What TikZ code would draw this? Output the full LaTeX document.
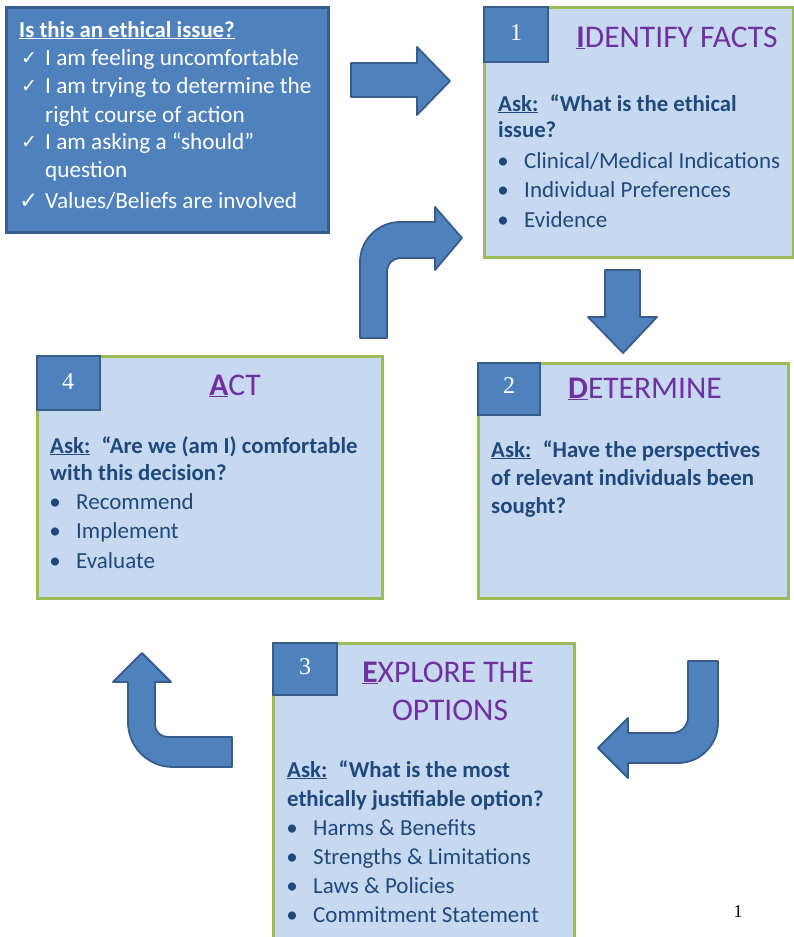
\documentclass[tikz,border=0pt]{standalone}
\usepackage{fontspec}
\setmainfont{Carlito}
\newfontfamily\numfont{Liberation Serif}
\newfontfamily\symfont{DejaVu Sans}
\definecolor{midblue}{HTML}{4F81BD}
\definecolor{edgeblue}{HTML}{385D8A}
\definecolor{lightfill}{HTML}{C6D9F1}
\definecolor{greenedge}{HTML}{9BBB59}
\definecolor{darktext}{HTML}{1F497D}
\definecolor{purpletitle}{HTML}{7030A0}
\begin{document}
\begin{tikzpicture}[x=1pt,y=-1pt,
  stepcard/.style={fill=lightfill,draw=greenedge,line width=3pt},
  qbox/.style={fill=midblue,draw=edgeblue,line width=3pt},
  numbox/.style={fill=midblue,draw=edgeblue,line width=1.2pt},
  bigarrow/.style={fill=midblue,draw=edgeblue,line width=1.8pt,line join=round},
  txt/.style={anchor=base west,inner sep=0pt,text=darktext,font=\fontsize{23}{26}\selectfont},
  btxt/.style={txt,font=\fontsize{22.8}{26}\selectfont\bfseries},
  wtxt/.style={anchor=base west,inner sep=0pt,text=white,font=\fontsize{23.2}{26}\selectfont},
  chk/.style={anchor=base west,inner sep=0pt,text=white,font=\symfont\fontsize{19}{22}\selectfont},
  bul/.style={anchor=base,inner sep=0pt,text=darktext,font=\fontsize{23}{26}\selectfont},
  ttl/.style={anchor=base,inner sep=0pt,text=purpletitle,font=\fontsize{31.5}{36}\selectfont},
  numtxt/.style={anchor=center,inner sep=0pt,text=white,font=\numfont\fontsize{24}{27}\selectfont}
]
\useasboundingbox (0,0) rectangle (794,937);

% ---- question box ----
\draw[qbox] (6,7) rectangle (328,232);
\node[wtxt,font=\fontsize{22.8}{26}\selectfont\bfseries] (q0) at (19,37) {\underline{Is this an ethical issue?}};
\node[chk] (c1) at (21,64) {✓};
\node[wtxt] (q1) at (45,65) {I am feeling uncomfortable};
\node[chk] (c2) at (21,92) {✓};
\node[wtxt] (q2) at (45,93) {I am trying to determine the};
\node[wtxt] (q3) at (45,122) {right course of action};
\node[chk] (c3) at (21,148) {✓};
\node[wtxt] (q4) at (45,149) {I am asking a “should”};
\node[wtxt] (q5) at (45,177) {question};
\node[chk,font=\symfont\fontsize{23}{26}\selectfont] (c4) at (19,208) {✓};
\node[wtxt] (q6) at (45,208) {Values/Beliefs are involved};

% ---- arrows ----
\draw[bigarrow] (351,63) -- (417,63) -- (417,47) -- (450,81) -- (417,115) -- (417,97) -- (351,97) -- cycle;
\draw[bigarrow] (360,338) -- (360,262) .. controls (360,240) and (378,222) .. (400,222)
  -- (435,222) -- (435,207) -- (462,238) -- (435,270) -- (435,258) -- (400,258)
  .. controls (393,258) and (387,264) .. (387,271) -- (387,338) -- cycle;
\draw[bigarrow] (605,270) -- (640,270) -- (640,317) -- (657,317) -- (623,353) -- (588,317) -- (605,317) -- cycle;
\draw[bigarrow] (718,661) -- (718,723) .. controls (718,745) and (700,763) .. (678,763)
  -- (628,763) -- (628,778) -- (598,748) -- (628,718) -- (628,733) -- (672,733)
  .. controls (681,733) and (688,726) .. (688,717) -- (688,661) -- cycle;
\draw[bigarrow] (142,653) -- (171,682) -- (155,682) -- (155,725)
  .. controls (155,732) and (161,737) .. (168,737) -- (232,737) -- (232,767) -- (173,767)
  .. controls (148,767) and (128,747) .. (128,722) -- (128,682) -- (113,682) -- cycle;

% ---- step 1 ----
\draw[stepcard] (484,7) rectangle (793,257);
\draw[numbox] (484,7) rectangle (548,62);
\node[numtxt] (n1) at (516,33) {1};
\node[ttl] (t1) at (677,47) {\textbf{\underline{I}}DENTIFY FACTS};
\node[btxt] (a1) at (498,111) {\underline{Ask:}\hspace{0.5em}“What is the ethical};
\node[btxt] (a1b) at (498,137) {issue?};
\node[bul] (b11) at (503,168) {•};
\node[txt] (l11) at (524,168) {Clinical/Medical Indications};
\node[bul] (b12) at (503,197) {•};
\node[txt] (l12) at (524,197) {Individual Preferences};
\node[bul] (b13) at (503,227) {•};
\node[txt] (l13) at (524,227) {Evidence};

% ---- step 2 ----
\draw[stepcard] (478,363) rectangle (788,598);
\draw[numbox] (478,363) rectangle (540,415);
\node[numtxt] (n2) at (509,386) {2};
\node[ttl] (t2) at (645,398) {\textbf{\underline{D}}ETERMINE};
\node[btxt] (a2) at (491,457) {\underline{Ask:}\hspace{0.5em}“Have the perspectives};
\node[btxt] (a2b) at (491,485) {of relevant individuals been};
\node[btxt] (a2c) at (491,513) {sought?};

% ---- step 4 ----
\draw[stepcard] (37,356) rectangle (382,598);
\draw[numbox] (37,356) rectangle (100,410);
\node[numtxt] (n4) at (68,382) {4};
\node[ttl] (t4) at (235,395) {\textbf{\underline{A}}CT};
\node[btxt] (a4) at (50,453) {\underline{Ask:}\hspace{0.5em}“Are we (am I) comfortable};
\node[btxt] (a4b) at (50,480) {with this decision?};
\node[bul] (b41) at (55,509) {•};
\node[txt] (l41) at (76,509) {Recommend};
\node[bul] (b42) at (55,538) {•};
\node[txt] (l42) at (76,538) {Implement};
\node[bul] (b43) at (55,568) {•};
\node[txt] (l43) at (76,568) {Evaluate};

% ---- step 3 ----
\draw[stepcard] (273,643) rectangle (574,950);
\draw[numbox] (273,643) rectangle (337,695);
\node[numtxt] (n3) at (305,667) {3};
\node[ttl] (t3) at (448,682) {\textbf{\underline{E}}XPLORE THE};
\node[ttl] (t3b) at (450,720) {OPTIONS};
\node[btxt] (a3) at (287,777) {\underline{Ask:}\hspace{0.5em}“What is the most};
\node[btxt] (a3b) at (287,806) {ethically justifiable option?};
\node[bul] (b31) at (292,835) {•};
\node[txt] (l31) at (313,835) {Harms \& Benefits};
\node[bul] (b32) at (292,864) {•};
\node[txt] (l32) at (313,864) {Strengths \& Limitations};
\node[bul] (b33) at (292,893) {•};
\node[txt] (l33) at (313,893) {Laws \& Policies};
\node[bul] (b34) at (292,922) {•};
\node[txt] (l34) at (313,922) {Commitment Statement};

% ---- page number ----
\node[anchor=center,inner sep=0pt,font=\numfont\fontsize{18}{20}\selectfont] (pg) at (738,912) {1};
\end{tikzpicture}
\end{document}
